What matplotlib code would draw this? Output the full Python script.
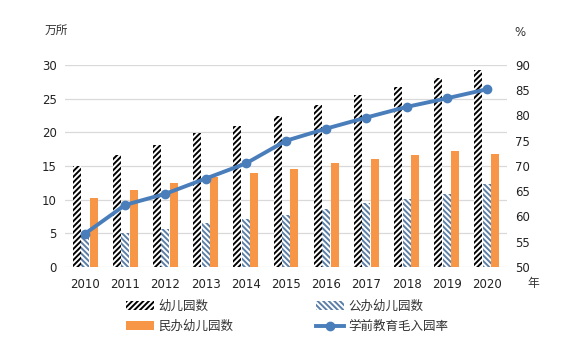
import matplotlib
matplotlib.use("Agg")
import matplotlib.pyplot as plt
import numpy as np

plt.rcParams['font.family'] = ['DejaVu Sans', 'Noto Sans CJK SC']
plt.rcParams['hatch.linewidth'] = 1.4

years = ['2010', '2011', '2012', '2013', '2014', '2015', '2016', '2017', '2018', '2019', '2020']
total = [15.0, 16.7, 18.1, 19.9, 21.0, 22.4, 24.0, 25.5, 26.7, 28.1, 29.2]
public = [4.8, 5.1, 5.7, 6.5, 7.1, 7.7, 8.6, 9.5, 10.1, 10.8, 12.4]
private = [10.2, 11.5, 12.5, 13.4, 13.9, 14.6, 15.4, 16.0, 16.6, 17.3, 16.8]
rate = [56.6, 62.3, 64.5, 67.5, 70.5, 75.0, 77.4, 79.6, 81.7, 83.4, 85.2]

fig = plt.figure(figsize=(5.82, 3.62), dpi=100)
ax = fig.add_axes([65/582, 1-267/362, 442/582, 202/362])
x = np.arange(len(years))
w = 0.2
off = 0.21

b1 = ax.bar(x - off, total, w, facecolor='white', edgecolor='black', hatch='//////', linewidth=0, label='幼儿园数')
b2 = ax.bar(x, public, w, facecolor='white', edgecolor='#5b7fa6', hatch='\\\\\\\\\\\\', linewidth=0, label='公办幼儿园数')
b3 = ax.bar(x + off, private, w, color='#f79646', linewidth=0, label='民办幼儿园数')

ax.set_ylim(0, 30)
ax.set_yticks(range(0, 31, 5))
ax.set_xlim(-0.5, len(years) - 0.5)
ax.set_xticks(x)
ax.set_xticklabels(years)
ax.yaxis.grid(True, color='#d9d9d9', linewidth=0.9)
ax.set_axisbelow(True)
for s in ax.spines.values():
    s.set_visible(False)
ax.tick_params(length=0, labelsize=8.5, colors='#222222', pad=6)
ax.tick_params(axis='x', pad=8)

ax2 = ax.twinx()
l1, = ax2.plot(x, rate, color='#4a7ebb', linewidth=2.8, marker='o', markersize=6, label='学前教育毛入园率')
ax2.set_ylim(50, 90)
ax2.set_yticks(range(50, 91, 5))
for s in ax2.spines.values():
    s.set_visible(False)
ax2.tick_params(length=0, labelsize=8.5, colors='#222222', pad=6)

fig.text(45/582, 1-30/362, '万所', fontsize=8.5, color='#333333', va='center', ha='left')
fig.text(514/582, 1-32/362, '%', fontsize=8.5, color='#333333', va='center', ha='left')
fig.text(527/582, 1-284/362, '年', fontsize=8.5, color='#333333', va='center', ha='left')

leg = fig.legend(handles=[b1, b3, b2, l1], labels=['幼儿园数', '民办幼儿园数', '公办幼儿园数', '学前教育毛入园率'],
                 ncol=2, loc='upper left', bbox_to_anchor=(126/582, 1-300/362),
                 frameon=False, fontsize=9, handlelength=2.2, handletextpad=0.4,
                 columnspacing=6.6, labelspacing=0.55, borderpad=0, borderaxespad=0)
for t in leg.get_texts():
    t.set_color('#333333')

fig.savefig('out.png', dpi=100)
